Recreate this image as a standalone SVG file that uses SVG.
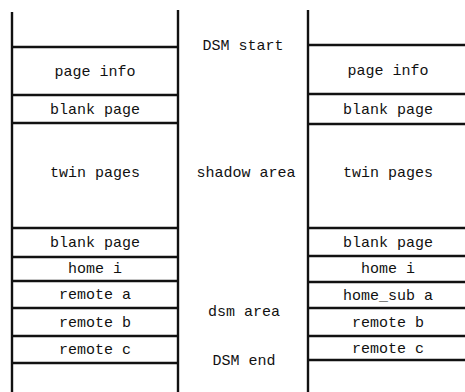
<svg xmlns="http://www.w3.org/2000/svg" width="465" height="392" viewBox="0 0 465 392">
<style>
.ln{stroke:#111;stroke-width:2.4;fill:none}
.t{font-family:"Liberation Mono","DejaVu Sans Mono",monospace;font-size:15px;fill:#111;text-anchor:middle}
</style>
<rect width="465" height="392" fill="#fff"/>
<g id="connectors">
<line class="ln" x1="12" y1="12" x2="12" y2="392"/>
<line class="ln" x1="178" y1="10" x2="178" y2="392"/>
<line class="ln" x1="308" y1="10" x2="308" y2="392"/>
<g id="left-lines">
<line class="ln" x1="12" y1="47" x2="178" y2="47"/>
<line class="ln" x1="12" y1="95" x2="178" y2="95"/>
<line class="ln" x1="12" y1="123" x2="178" y2="123"/>
<line class="ln" x1="12" y1="228" x2="178" y2="228"/>
<line class="ln" x1="12" y1="257" x2="178" y2="257"/>
<line class="ln" x1="12" y1="281" x2="178" y2="281"/>
<line class="ln" x1="12" y1="308" x2="178" y2="308"/>
<line class="ln" x1="12" y1="336" x2="178" y2="336"/>
<line class="ln" x1="12" y1="363" x2="178" y2="363"/>
</g>
<g id="right-lines">
<line class="ln" x1="308" y1="45" x2="465" y2="45"/>
<line class="ln" x1="308" y1="94" x2="465" y2="94"/>
<line class="ln" x1="308" y1="124" x2="465" y2="124"/>
<line class="ln" x1="308" y1="228" x2="465" y2="228"/>
<line class="ln" x1="308" y1="256" x2="465" y2="256"/>
<line class="ln" x1="308" y1="282" x2="465" y2="282"/>
<line class="ln" x1="308" y1="308" x2="465" y2="308"/>
<line class="ln" x1="308" y1="336" x2="465" y2="336"/>
<line class="ln" x1="308" y1="360" x2="465" y2="360"/>
</g>
</g>
<g id="left">
<g id="l-pageinfo"><text class="t" x="95" y="76">page info</text></g>
<g id="l-blank1"><text class="t" x="95" y="114">blank page</text></g>
<g id="l-twin"><text class="t" x="95" y="177">twin pages</text></g>
<g id="l-blank2"><text class="t" x="95" y="247">blank page</text></g>
<g id="l-home"><text class="t" x="95" y="273">home i</text></g>
<g id="l-ra"><text class="t" x="95" y="299">remote a</text></g>
<g id="l-rb"><text class="t" x="95" y="327">remote b</text></g>
<g id="l-rc"><text class="t" x="95" y="354">remote c</text></g>
</g>
<g id="middle">
<g id="m-start"><text class="t" x="243" y="50">DSM start</text></g>
<g id="m-shadow"><text class="t" x="246" y="177">shadow area</text></g>
<g id="m-dsm"><text class="t" x="244" y="316">dsm area</text></g>
<g id="m-end"><text class="t" x="244" y="365">DSM end</text></g>
</g>
<g id="right">
<g id="r-pageinfo"><text class="t" x="388" y="75">page info</text></g>
<g id="r-blank1"><text class="t" x="388" y="114">blank page</text></g>
<g id="r-twin"><text class="t" x="388" y="177">twin pages</text></g>
<g id="r-blank2"><text class="t" x="388" y="247">blank page</text></g>
<g id="r-home"><text class="t" x="388" y="273">home i</text></g>
<g id="r-hsa"><text class="t" x="388" y="300">home_sub a</text></g>
<g id="r-rb"><text class="t" x="388" y="327">remote b</text></g>
<g id="r-rc"><text class="t" x="388" y="353">remote c</text></g>
</g>
</svg>
